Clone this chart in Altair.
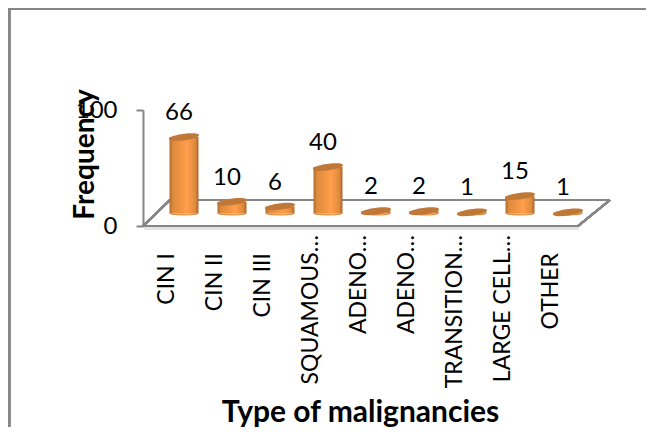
import altair as alt
import pandas as pd

order = [1, 2, 3, 4, 5, 6, 7, 8, 9]
labels = ["CIN I", "CIN II", "CIN III", "SQUAMOUS…", "ADENO…", "ADENO…", "TRANSITION…", "LARGE CELL…", "OTHER"]
values = [66, 10, 6, 40, 2, 2, 1, 15, 1]
short_labels = ["CIN I", "CIN II", "CIN III", "OTHER"]

df = pd.DataFrame({"order": order, "label": labels, "value": values})

FONT = "Lato"
GRAY = "#868686"
x_enc = alt.X("order:O", scale=alt.Scale(domain=order, range=[0, 432], paddingInner=0, paddingOuter=0),
              axis=alt.Axis(title="Type of malignancies", labels=False, ticks=False, domain=False, grid=False,
                            titleFont=FONT, titleFontSize=30, titleFontWeight="bold", titleColor="#000",
                            titleX=217, titleY=186, titleBaseline="middle"))
y_enc = alt.Y("value:Q", scale=alt.Scale(domain=[0, 100], range=[116, 0]),
              axis=alt.Axis(title="Frequency", values=[0, 100], tickSize=7, tickWidth=2, tickColor=GRAY,
                            domainColor=GRAY, domainWidth=2, grid=False, labelFont=FONT, labelFontSize=24,
                            labelColor="#000", labelPadding=19,
                            titleFont=FONT, titleFontSize=28, titleFontWeight="bold", titleColor="#000",
                            titleX=-58, titleY=44, titleBaseline="middle"))

side = alt.LinearGradient(gradient="linear", x1=0, x2=1, y1=0, y2=0, stops=[
    alt.GradientStop(offset=0, color="#B06A2C"),
    alt.GradientStop(offset=0.12, color="#DE8A3E"),
    alt.GradientStop(offset=0.6, color="#FF9E4B"),
    alt.GradientStop(offset=0.88, color="#E08B40"),
    alt.GradientStop(offset=1, color="#A9652B"),
])
TOP = "M-1,0.12 C-1,-0.16 1,-0.42 1,-0.12 C1,0.16 -1,0.42 -1,0.12 Z"
BOTTOM = "M-1,0 C-1,0.18 1,0.18 1,0 Z"

DX, DY = 17, -12.5
base = alt.Chart(df)


def rule(x, x2, y, y2, color=GRAY, w=2):
    return alt.Chart(df).mark_rule(color=color, strokeWidth=w).encode(
        x=alt.value(x), x2=alt.value(x2), y=alt.value(y), y2=alt.value(y2))


frame_top = rule(-135, 511, -101.5, -101.5, w=2.5)
frame_left = rule(-134, -134, -102, 317, w=2.5)
floor_shadow = rule(1, 436, 118.5, 118.5, color="#E3E3E3", w=3)
floor_front = rule(0, 435, 116, 116)
floor_back = rule(27, 467, 90, 90)
floor_left = rule(0, 27, 116, 90)
floor_right = rule(435, 467, 116, 90)

bars = base.mark_bar(size=29, xOffset=DX, yOffset=DY, fill=side, stroke=None).encode(x=x_enc, y=y_enc)
bottoms = base.mark_point(shape=BOTTOM, size=29 * 29, filled=True, fill=side, opacity=1,
                          xOffset=DX, yOffset=DY).encode(x=x_enc, y=alt.datum(0))
tops = base.mark_point(shape=TOP, size=30 * 30, filled=True, fill="#C07838", opacity=1,
                       xOffset=DX, yOffset=DY).encode(x=x_enc, y=y_enc)
value_text = base.mark_text(font=FONT, fontSize=24, color="#000", xOffset=DX - 5, yOffset=DY - 24,
                            baseline="middle").encode(x=x_enc, y=y_enc, text="value:Q")
long_labels = base.transform_filter(~alt.FieldOneOfPredicate(field="label", oneOf=short_labels)).mark_text(
    font=FONT, fontSize=23, color="#000", angle=270, align="right", baseline="middle", yOffset=9
).encode(x=x_enc, y=alt.value(116), text="label:N")
plain_labels = base.transform_filter(alt.FieldOneOfPredicate(field="label", oneOf=short_labels)).mark_text(
    font=FONT, fontSize=23, color="#000", angle=270, align="right", baseline="middle", yOffset=27
).encode(x=x_enc, y=alt.value(116), text="label:N")

chart = alt.layer(
    frame_top, frame_left, floor_shadow, floor_front, floor_back, floor_left, floor_right,
    bars, bottoms, tops,
    value_text, long_labels, plain_labels
).properties(
    width=435, height=116,
    autosize=alt.AutoSizeParams(type="none"),
    padding={"left": 135, "top": 102, "right": 68, "bottom": 201},
    background="white",
).configure_view(stroke=None)

chart.save("out.html", embed_options={"renderer": "svg", "actions": False})
